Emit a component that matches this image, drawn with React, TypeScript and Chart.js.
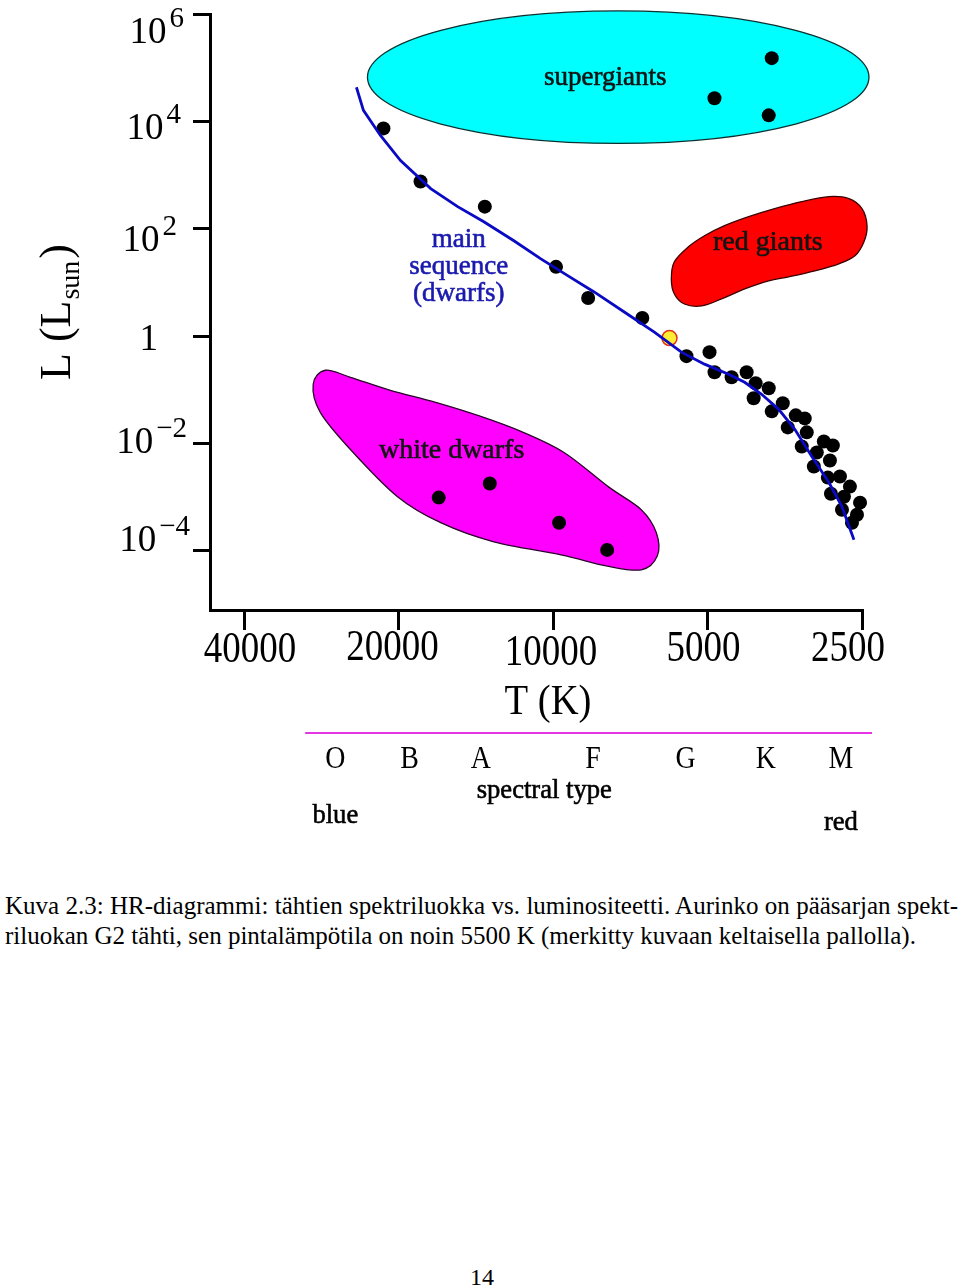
import React, { useEffect, useRef } from "react";
import { Chart, registerables } from "chart.js";

Chart.register(...registerables);

const SERIF = '"Liberation Serif", "DejaVu Serif", "Times New Roman", serif';

// ---- axes ----
const tempRange = [2500, 46600]; // K (reversed axis: hot on the left)
const tempTicks = [40000, 20000, 10000, 5000, 2500];
const tempTickLabels = ["40000", "20000", "10000", "5000", "2500"];
const lumRange = [7.9e-6, 1e6]; // L / L_sun
const lumTicks = [1e-4, 1e-2, 1, 1e2, 1e4, 1e6];
const lumTickExponents = ["\u22124", "\u22122", "", "2", "4", "6"];

// ---- main sequence curve (blue line) ----
const msLineT = [24160, 23410, 21690, 19820, 17310, 15340, 13640, 11920, 10560, 9347, 8316, 7264, 6347, 5621, 5068, 4549, 4233, 3922, 3633, 3380, 3131, 2900, 2735, 2592];
const msLineL = [43250, 16060, 5470, 1866, 559, 258, 135, 59.7, 27.5, 13.2, 6.64, 2.81, 1.19, 0.502, 0.3, 0.195, 0.138, 0.0824, 0.0432, 0.0183, 0.00571, 0.00187, 0.000665, 0.000161];

// ---- stars ----
const mainSeqT = [21400, 18120, 13580, 9866, 8542, 6699, 5495, 4955, 4845, 4488, 4195, 4029, 3799, 4065, 3567, 3748, 3365, 3232, 3488, 3203, 2967, 2849, 3276, 3062, 2887, 3103, 2760, 2914, 2639, 2874, 2711, 2522, 2735, 2557, 2615];
const mainSeqL = [7400, 756, 258, 19.5, 5.13, 2.17, 0.423, 0.502, 0.212, 0.171, 0.212, 0.132, 0.107, 0.0694, 0.056, 0.0396, 0.0334, 0.0293, 0.0199, 0.0161, 0.0109, 0.00918, 0.00879, 0.00679, 0.00481, 0.00372, 0.00242, 0.00231, 0.00157, 0.00116, 0.00102, 0.000789, 0.000584, 0.000471, 0.000334];
const superT = [3748, 4846, 3799];
const superL = [150600, 26900, 12950];
const whiteDwarfStarT = [16700, 13280, 9733, 7843];
const whiteDwarfStarL = [0.00098, 0.00179, 0.000334, 0.000104];
const sunT = [5930];
const sunL = [0.918];

// ---- regions ----
const superEllipseT = [22990, 2423]; // left, right extent
const superEllipseL = [1.14e6, 3880]; // top, bottom extent
const redGiantT = [5881, 5802, 5447, 5068, 4632, 4157, 3699, 3276, 2900, 2651, 2500, 2444, 2478, 2580, 2773, 3090, 3473, 3799, 4233, 4695, 5137, 5545, 5802];
const redGiantL = [11.6, 24.2, 46.1, 74.0, 114, 168, 237, 320, 396, 364, 237, 114, 57.1, 31.3, 22.2, 16.4, 12.7, 10.7, 7.56, 4.92, 3.64, 3.96, 6.1];
const whiteDwarfT = [29330, 27780, 24820, 20740, 16930, 13830, 11550, 9518, 7808, 6730, 6290, 6262, 6730, 7878, 9647, 13040, 16550, 20090, 24820, 28410];
const whiteDwarfL = [0.127, 0.231, 0.171, 0.0979, 0.0584, 0.032, 0.0168, 0.00679, 0.00157, 0.000584, 0.000217, 0.0000807, 0.0000442, 0.0000525, 0.0000842, 0.000147, 0.000334, 0.00102, 0.00773, 0.038];

// ---- annotations ----
const regionLabels = ["supergiants", "red giants", "white dwarfs"];
const regionLabelT = [7914, 3816, 15760];
const regionLabelL = [63680, 54.7, 0.0074];
const msLabelLines = ["main", "sequence", "(dwarfs)"];
const msLabelT = 15270;
const msLabelL = 19.5;
const spectralTypes = ["O", "B", "A", "F", "G", "K", "M"];
const spectralT = [26560, 19040, 13830, 8353, 5520, 3851, 2748];
const spectralLabelT = 10400;
const spectralBarT = [30400, 2390];

// label offsets (style only), in lumTicks order
const yLabelGap = [20, 23, 52, 33, 29, 26];
const yLabelDy = [0, 10, 14, 22, 18, 29];
const xLabelDx = [6, -6, -2, -4, -14];
const xLabelDy = [52, 50, 55, 51, 51];

function blobPath(ctx: CanvasRenderingContext2D, xs: number[], ys: number[]) {
  const n = xs.length;
  ctx.beginPath();
  ctx.moveTo(xs[0], ys[0]);
  for (let i = 0; i < n; i++) {
    const i0 = (i - 1 + n) % n, i2 = (i + 1) % n, i3 = (i + 2) % n;
    const c1x = xs[i] + (xs[i2] - xs[i0]) / 6;
    const c1y = ys[i] + (ys[i2] - ys[i0]) / 6;
    const c2x = xs[i2] - (xs[i3] - xs[i]) / 6;
    const c2y = ys[i2] - (ys[i3] - ys[i]) / 6;
    ctx.bezierCurveTo(c1x, c1y, c2x, c2y, xs[i2], ys[i2]);
  }
  ctx.closePath();
}

function drawScaledText(ctx: CanvasRenderingContext2D, text: string, x: number, y: number, font: string, sx: number, align: CanvasTextAlign, heavy = 0) {
  ctx.save();
  ctx.font = font;
  ctx.textAlign = align;
  ctx.textBaseline = "alphabetic";
  ctx.translate(x, y);
  ctx.scale(sx, 1);
  ctx.fillText(text, 0, 0);
  if (heavy > 0) {
    ctx.lineWidth = heavy;
    ctx.strokeStyle = ctx.fillStyle as string;
    ctx.strokeText(text, 0, 0);
  }
  ctx.restore();
}

const hrPlugin = {
  id: "hrDecor",
  beforeDatasetsDraw(chart: any) {
    const ctx: CanvasRenderingContext2D = chart.ctx;
    const sx = chart.scales.x, sy = chart.scales.y;
    const px = (t: number) => sx.getPixelForValue(t);
    const py = (l: number) => sy.getPixelForValue(l);
    ctx.save();
    // supergiants ellipse
    const x1 = px(superEllipseT[0]), x2 = px(superEllipseT[1]);
    const y1 = py(superEllipseL[0]), y2 = py(superEllipseL[1]);
    ctx.beginPath();
    ctx.ellipse((x1 + x2) / 2, (y1 + y2) / 2, Math.abs(x2 - x1) / 2, Math.abs(y2 - y1) / 2, 0, 0, Math.PI * 2);
    ctx.fillStyle = "#00ffff";
    ctx.fill();
    ctx.lineWidth = 1.3;
    ctx.strokeStyle = "#0b3030";
    ctx.stroke();
    // red giants
    blobPath(ctx, redGiantT.map(px), redGiantL.map(py));
    ctx.fillStyle = "#ff0000";
    ctx.fill();
    ctx.strokeStyle = "#3a0000";
    ctx.lineWidth = 1.3;
    ctx.stroke();
    // white dwarfs
    blobPath(ctx, whiteDwarfT.map(px), whiteDwarfL.map(py));
    ctx.fillStyle = "#ff00ff";
    ctx.fill();
    ctx.strokeStyle = "#2a002a";
    ctx.lineWidth = 1.3;
    ctx.stroke();
    // region labels
    ctx.fillStyle = "#141414";
    ctx.strokeStyle = "#141414";
    ctx.lineWidth = 0.6;
    ctx.textAlign = "center";
    ctx.textBaseline = "middle";
    regionLabels.forEach((t, i) => {
      ctx.font = `${i === 0 ? 27 : 28}px ${SERIF}`;
      ctx.fillText(t, px(regionLabelT[i]), py(regionLabelL[i]));
      ctx.strokeText(t, px(regionLabelT[i]), py(regionLabelL[i]));
    });
    ctx.fillStyle = "#1a1aae";
    ctx.strokeStyle = "#1a1aae";
    ctx.font = `27px ${SERIF}`;
    const cx = px(msLabelT), cy = py(msLabelL);
    msLabelLines.forEach((t, i) => {
      ctx.fillText(t, cx, cy + (i - 1) * 27);
      ctx.strokeText(t, cx, cy + (i - 1) * 27);
    });
    ctx.restore();
  },
  afterDraw(chart: any) {
    const ctx: CanvasRenderingContext2D = chart.ctx;
    const sx = chart.scales.x, sy = chart.scales.y;
    const area = chart.chartArea;
    ctx.save();
    ctx.fillStyle = "#000";
    // y tick labels
    lumTicks.forEach((v, i) => {
      const y = sy.getPixelForValue(v) + yLabelDy[i];
      const right = area.left - yLabelGap[i];
      const exp = lumTickExponents[i];
      ctx.textBaseline = "alphabetic";
      if (exp === "") {
        ctx.font = `37px ${SERIF}`;
        ctx.textAlign = "right";
        ctx.fillText("1", right, y);
        return;
      }
      ctx.font = `29px ${SERIF}`;
      const wSup = ctx.measureText(exp).width;
      ctx.font = `37px ${SERIF}`;
      const wBase = ctx.measureText("10").width;
      const start = right - wSup - 3 - wBase;
      ctx.textAlign = "left";
      ctx.fillText("10", start, y);
      ctx.font = `29px ${SERIF}`;
      ctx.fillText(exp, start + wBase + 3, y - 16);
    });
    // x tick labels
    tempTicks.forEach((v, i) => {
      drawScaledText(ctx, tempTickLabels[i], sx.getPixelForValue(v) + xLabelDx[i], area.bottom + xLabelDy[i], `44px ${SERIF}`, 0.84, "center");
    });
    // x title
    drawScaledText(ctx, "T (K)", (area.left + area.right) / 2 + 12, area.bottom + 104, `42px ${SERIF}`, 0.92, "center");
    // y title (rotated, with subscript)
    ctx.save();
    ctx.translate(70, 380);
    ctx.rotate(-Math.PI / 2);
    ctx.textAlign = "left";
    ctx.textBaseline = "alphabetic";
    ctx.font = `44px ${SERIF}`;
    const part1 = "L (L";
    const w1 = ctx.measureText(part1).width;
    ctx.fillText(part1, 0, 0);
    ctx.font = `28px ${SERIF}`;
    const wSub = ctx.measureText("sun").width;
    ctx.fillText("sun", w1 + 1, 9);
    ctx.font = `44px ${SERIF}`;
    ctx.fillText(")", w1 + wSub + 3, 0);
    ctx.restore();
    // spectral type bar
    const barY = area.bottom + 123;
    ctx.beginPath();
    ctx.moveTo(sx.getPixelForValue(spectralBarT[0]), barY);
    ctx.lineTo(sx.getPixelForValue(spectralBarT[1]), barY);
    ctx.strokeStyle = "#e436e4";
    ctx.lineWidth = 2;
    ctx.stroke();
    ctx.fillStyle = "#000";
    spectralTypes.forEach((s, i) => {
      drawScaledText(ctx, s, sx.getPixelForValue(spectralT[i]), barY + 35, `31px ${SERIF}`, 0.9, "center");
    });
    drawScaledText(ctx, "spectral type", sx.getPixelForValue(spectralLabelT), barY + 65, `28px ${SERIF}`, 0.95, "center", 0.6);
    drawScaledText(ctx, "blue", sx.getPixelForValue(spectralT[0]), barY + 90, `28px ${SERIF}`, 0.95, "center", 0.6);
    drawScaledText(ctx, "red", sx.getPixelForValue(spectralT[6]), barY + 97, `28px ${SERIF}`, 0.95, "center", 0.6);
    ctx.restore();
  },
};

function pts(ts: number[], ls: number[]) {
  return ts.map((t, i) => ({ x: t, y: ls[i] }));
}

function HRChart() {
  const ref = useRef<HTMLCanvasElement | null>(null);
  useEffect(() => {
    if (!ref.current) return;
    const chart = new Chart(ref.current, {
      type: "scatter",
      data: {
        datasets: [
          {
            label: "main sequence",
            data: pts(msLineT, msLineL),
            showLine: true,
            borderColor: "#0a0ac4",
            borderWidth: 2.8,
            pointRadius: 0,
            tension: 0,
            fill: false,
            clip: false,
          },
          {
            label: "Sun",
            data: pts(sunT, sunL),
            pointRadius: 7.5,
            backgroundColor: "#ffee33",
            borderColor: "#e0301a",
            borderWidth: 1.5,
            clip: false,
          },
          {
            label: "main sequence stars",
            data: pts(mainSeqT, mainSeqL),
            pointRadius: 7,
            backgroundColor: "#000",
            borderWidth: 0,
            clip: false,
          },
          {
            label: "supergiant stars",
            data: pts(superT, superL),
            pointRadius: 7,
            backgroundColor: "#000",
            borderWidth: 0,
            clip: false,
          },
          {
            label: "white dwarf stars",
            data: pts(whiteDwarfStarT, whiteDwarfStarL),
            pointRadius: 7,
            backgroundColor: "#000",
            borderWidth: 0,
            clip: false,
          },
        ],
      },
      options: {
        responsive: false,
        animation: false,
        events: [],
        layout: { padding: { left: 193, right: 98, top: 14, bottom: 240 } },
        plugins: { legend: { display: false }, tooltip: { enabled: false } },
        scales: {
          x: {
            type: "logarithmic",
            reverse: true,
            min: tempRange[0],
            max: tempRange[1],
            afterBuildTicks: (scale: any) => {
              scale.ticks = tempTicks.map((v) => ({ value: v }));
            },
            ticks: { display: false },
            grid: { display: true, drawOnChartArea: false, drawTicks: true, tickLength: 20, lineWidth: 3, color: "#000" },
            border: { display: true, width: 3, color: "#000" },
          },
          y: {
            type: "logarithmic",
            min: lumRange[0],
            max: lumRange[1],
            afterBuildTicks: (scale: any) => {
              scale.ticks = lumTicks.map((v) => ({ value: v }));
            },
            ticks: { display: false },
            grid: { display: true, drawOnChartArea: false, drawTicks: true, tickLength: 17, lineWidth: 3, color: "#000" },
            border: { display: true, width: 3, color: "#000" },
          },
        },
      },
      plugins: [hrPlugin],
    } as any);
    return () => chart.destroy();
  }, []);
  return <canvas ref={ref} width={960} height={870} style={{ position: "absolute", left: 0, top: 0 }} />;
}

const captionLine1 = "Kuva 2.3: HR-diagrammi: tähtien spektriluokka vs. luminositeetti. Aurinko on pääsarjan spekt-";
const captionLine2 = "riluokan G2 tähti, sen pintalämpötila on noin 5500 K (merkitty kuvaan keltaisella pallolla).";

export default function App() {
  const textStyle: React.CSSProperties = {
    position: "absolute",
    left: 5,
    fontFamily: SERIF,
    fontSize: 25,
    lineHeight: "30px",
    color: "#000",
    whiteSpace: "nowrap",
  };
  return (
    <div style={{ position: "absolute", left: 0, top: 0, width: 960, height: 1288, background: "#fff", overflow: "hidden" }}>
      <HRChart />
      <div style={{ ...textStyle, top: 891, width: 953, textAlign: "justify", textAlignLast: "justify" as any, whiteSpace: "normal" }}>
        {captionLine1}
      </div>
      <div style={{ ...textStyle, top: 921 }}>{captionLine2}</div>
      <div style={{ ...textStyle, top: 1262, left: 0, width: 964, textAlign: "center", fontSize: 24 }}>14</div>
    </div>
  );
}
